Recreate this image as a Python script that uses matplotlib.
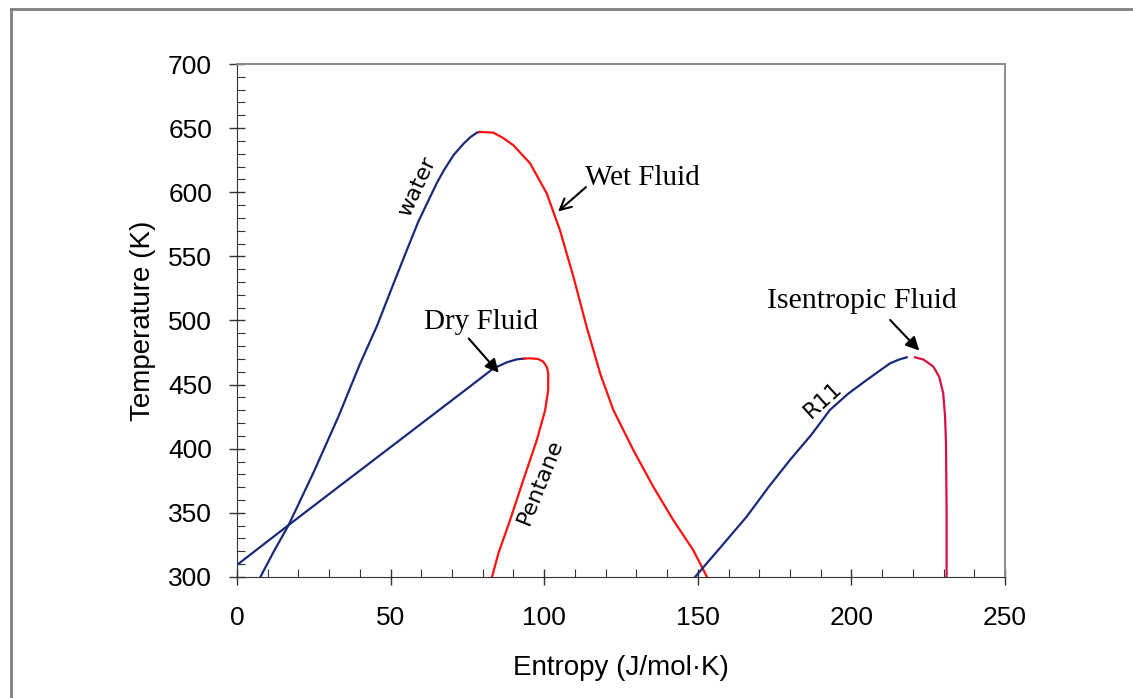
import matplotlib.pyplot as plt
from matplotlib.lines import Line2D

# ---------------------------
# DATA (entropy J/mol.K, temperature K)
# ---------------------------
water_liq_s = [7.6, 12.0, 16.8, 25.0, 33.0, 40.0, 45.6, 50.5, 55.3, 59.0, 62.4, 65.0, 67.3, 70.5, 73.8, 76.0, 78.1, 79.0]
water_liq_t = [300, 320, 340.5, 382, 425, 466, 496, 526, 555, 577, 594, 607, 617, 629, 638, 643, 646.5, 647]

water_vap_s = [79.0, 83.4, 86.5, 89.9, 95.4, 100.8, 105.1, 109.5, 113.8, 118.2, 122.5, 129.0, 135.5, 142.0, 148.5, 153.0]
water_vap_t = [647, 646.5, 642.5, 636.8, 622.6, 599.2, 570.6, 534.2, 495.2, 458.8, 430.2, 399, 370.4, 344.4, 321, 300]

pentane_liq_s = [0.0, 16.8, 30.0, 43.4, 55.0, 65.1, 75.0, 83.5, 88.0, 91.1, 93.5]
pentane_liq_t = [309.4, 340.5, 364.7, 389.2, 410.4, 428.9, 447, 462.7, 467.5, 469.7, 470.3]

pentane_vap_s = [93.5, 95.4, 98.0, 99.7, 100.9, 101.3, 101.3, 100.3, 97.6, 93.2, 88.9, 85.1, 82.9]
pentane_vap_t = [470.3, 470.5, 470.0, 467.9, 463.5, 458.8, 445.8, 430, 406.8, 375.6, 344.4, 318.5, 299]

r11_liq_s = [149.1, 157.0, 165.9, 173.0, 180.0, 187.0, 193.0, 199.0, 205.0, 209.0, 212.6, 215.5, 218.0]
r11_liq_t = [300, 322, 347, 370, 391.2, 411, 430.2, 443, 453.6, 460.5, 466.6, 469.5, 471.3]

r11_vap_s = [220.7, 223.5, 226.7, 228.6, 229.9, 230.5, 230.8, 231.0, 231.0]
r11_vap_t = [471.3, 469.5, 464, 456, 443.2, 425, 404.2, 350, 300]

blue = '#1b2a78'
red = '#ff1010'
red11 = '#d81040'

# ---------------------------
# PLOT
# ---------------------------
plt.rcParams['font.family'] = ['Liberation Sans', 'DejaVu Sans']
fig = plt.figure(figsize=(11.33, 6.98), dpi=100)
ax = fig.add_axes([0.2092, 0.1734, 0.6778, 0.7349])

lw = 1.6
ax.plot(water_liq_s, water_liq_t, color=blue, lw=lw)
ax.plot(water_vap_s, water_vap_t, color=red, lw=lw)
ax.plot(pentane_liq_s, pentane_liq_t, color=blue, lw=lw)
ax.plot(pentane_vap_s, pentane_vap_t, color=red, lw=lw)
ax.plot(r11_liq_s, r11_liq_t, color=blue, lw=lw)
ax.plot(r11_vap_s, r11_vap_t, color=red11, lw=lw)

ax.set_xlim(0, 250)
ax.set_ylim(300, 700)
ax.set_xticks([0, 50, 100, 150, 200, 250])
ax.set_yticks(range(300, 701, 50))
ax.set_xticks(range(0, 251, 10), minor=True)
ax.set_yticks(range(300, 701, 10), minor=True)
ax.tick_params(which='major', direction='inout', length=12, width=1, color='#333333',
               labelsize=19)
ax.tick_params(axis='y', which='major', pad=12)
ax.tick_params(axis='x', which='major', pad=15)
ax.tick_params(which='minor', direction='in', length=6, width=0.8, color='#333333')

for side in ['left', 'bottom']:
    ax.spines[side].set_color('#333333')
for side in ['top', 'right']:
    ax.spines[side].set_color('#8a8a8a')
    ax.spines[side].set_linewidth(1.4)

ax.set_xlabel('Entropy (J/mol·K)', fontsize=20, labelpad=18)
ax.set_ylabel('Temperature (K)', fontsize=20, labelpad=9)

# curve names
label_font = dict(fontsize=16, family='DejaVu Sans', style='normal',
                  ha='center', va='center')
ax.text(58.6, 604, 'water', rotation=65, **label_font)
ax.text(98.6, 374, 'Pentane', rotation=68, **label_font)
ax.text(190.9, 438, 'R11', rotation=42, **label_font)

# annotations
serif = 'Liberation Serif'
ax.text(113.2, 601, 'Wet Fluid', fontsize=21, family=serif, ha='left', va='bottom')
ax.annotate('', xy=(104.5, 585), xytext=(113.6, 604),
            arrowprops=dict(arrowstyle='->', color='black', lw=1.5, shrinkA=0, shrinkB=0,
                            mutation_scale=20))
ax.text(79.4, 498.8, 'Dry Fluid', fontsize=21, family=serif, ha='center', va='center')
ax.annotate('', xy=(85.2, 459.3), xytext=(75.4, 486),
            arrowprops=dict(arrowstyle='-|>', color='black', lw=1.5, shrinkA=0, shrinkB=0,
                            mutation_scale=20))
ax.text(203.5, 515.2, 'Isentropic Fluid', fontsize=21.5, family=serif, ha='center', va='center')
ax.annotate('', xy=(222.1, 476.5), xytext=(212.6, 500.4),
            arrowprops=dict(arrowstyle='-|>', color='black', lw=1.5, shrinkA=0, shrinkB=0,
                            mutation_scale=20))

# frame around the figure (left and top edges visible)
fig.add_artist(Line2D([11 / 1133, 11 / 1133], [0, 1 - 9 / 698], color='#808080', lw=2,
                      transform=fig.transFigure))
fig.add_artist(Line2D([11 / 1133, 1], [1 - 9 / 698, 1 - 9 / 698], color='#808080', lw=2,
                      transform=fig.transFigure))

fig.savefig('out.png', dpi=100)
